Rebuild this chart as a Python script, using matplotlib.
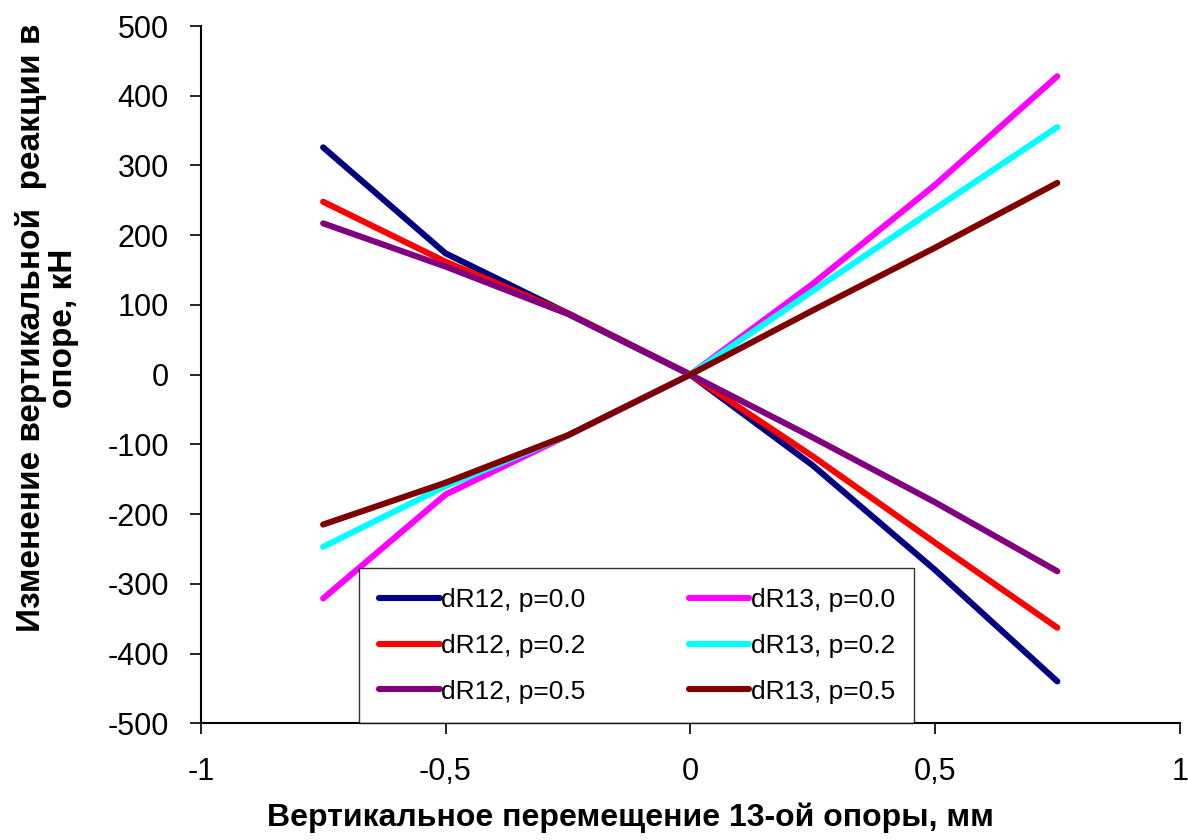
import matplotlib.pyplot as plt

# data
x = [-0.75, -0.5, -0.25, 0, 0.25, 0.5, 0.75]
dr12_p00 = [326, 174, 88, 0, -130, -280, -440]
dr12_p02 = [248, 162, 88, 0, -117, -241, -363]
dr12_p05 = [217, 155, 87, 0, -90, -183, -282]
dr13_p00 = [-321, -172, -87, 0, 130, 272, 428]
dr13_p02 = [-247, -160, -87, 0, 120, 238, 355]
dr13_p05 = [-215, -155, -87, 0, 92, 182, 275]

labels = ['dR12, p=0.0', 'dR12, p=0.2', 'dR12, p=0.5',
          'dR13, p=0.0', 'dR13, p=0.2', 'dR13, p=0.5']
colors = ['#000080', '#ff0000', '#800080', '#ff00ff', '#00ffff', '#800000']
series = [dr12_p00, dr12_p02, dr12_p05, dr13_p00, dr13_p02, dr13_p05]

x_ticks = [-1, -0.5, 0, 0.5, 1]
x_ticklabels = ['-1', '-0,5', '0', '0,5', '1']
y_ticks = list(range(-500, 501, 100))

plt.rcParams['font.family'] = ['Liberation Sans', 'DejaVu Sans']
plt.rcParams['axes.unicode_minus'] = False

fig = plt.figure(figsize=(11.88, 8.4), dpi=100)
ax = fig.add_axes([0.169, 0.139, 0.824, 0.830])

for ys, c, lab in zip(series, colors, labels):
    ax.plot(x, ys, color=c, lw=4.4, label=lab, solid_capstyle='round',
            solid_joinstyle='round')

ax.set_xlim(-1, 1)
ax.set_ylim(-500, 500)
ax.set_xticks(x_ticks)
ax.set_xticklabels(x_ticklabels)
ax.set_yticks(y_ticks)
ax.tick_params(direction='out', length=8, width=1.2, labelsize=22)
ax.tick_params(axis='y', pad=15)
ax.tick_params(axis='x', pad=16)
for side in ['top', 'right']:
    ax.spines[side].set_visible(False)
for side in ['left', 'bottom']:
    ax.spines[side].set_linewidth(1.5)

ax.set_xlabel('Вертикальное перемещение 13-ой опоры, мм', fontsize=23,
              fontweight='bold')
ax.xaxis.set_label_coords(0.439, -0.113)
ax.set_ylabel('Изменение вертикальной  реакции в\nопоре, кН', fontsize=24,
              fontweight='bold', linespacing=1.05)
ax.yaxis.set_label_coords(-0.124, 0.567)

leg = ax.legend(ncol=2, loc='lower left', bbox_to_anchor=(0.162, 0.0, 0.567, 0.222),
                mode='expand', fontsize=19, frameon=True, fancybox=False,
                handlelength=2.3, handletextpad=0.05, columnspacing=2.0,
                labelspacing=0.83, borderpad=0.74, borderaxespad=0.0)
leg.get_frame().set_edgecolor('black')
leg.get_frame().set_linewidth(1.0)

fig.savefig('out.png', dpi=100)
